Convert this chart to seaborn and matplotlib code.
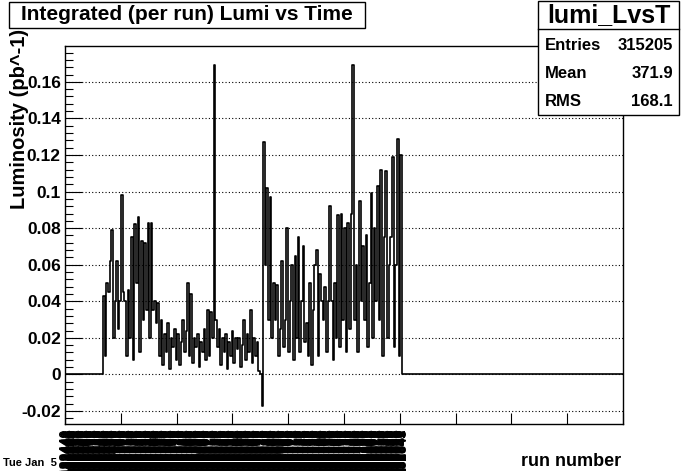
import numpy as np
import pandas as pd
import matplotlib
matplotlib.use("Agg")
import matplotlib.pyplot as plt
import matplotlib.transforms as mtransforms
from matplotlib.patches import Rectangle
from matplotlib.ticker import MultipleLocator
import seaborn as sns

# ---------------- data ----------------
first_edge = 68.0          # left edge of first non-empty bin (axis units 0..1000)
bin_width = 2.96
lumi_values = [
    # first hump
    0.043, 0.010, 0.050, 0.045, 0.062, 0.079, 0.020, 0.040, 0.062, 0.025, 0.040,
    0.098, 0.045, 0.040, 0.010, 0.046, 0.020, 0.075, 0.008, 0.082, 0.050, 0.086,
    0.012, 0.073, 0.030, 0.072, 0.035, 0.083, 0.020, 0.083, 0.035, 0.040, 0.028,
    # low region
    0.039, 0.010, 0.030, 0.005, 0.022, 0.012, 0.028, 0.003, 0.020, 0.015, 0.025,
    0.008, 0.022, 0.005, 0.018, 0.030, 0.012, 0.024, 0.050, 0.010, 0.044, 0.006,
    0.020, 0.015, 0.022, 0.004, 0.018, 0.012, 0.025, 0.008, 0.035, 0.010, 0.034,
    # spike
    0.020, 0.169, 0.030,
    # low region
    0.015, 0.025, 0.005, 0.020, 0.012, 0.022, 0.003, 0.018, 0.010, 0.024, 0.006,
    0.020, 0.014, 0.020, 0.004, 0.016, 0.030, 0.008, 0.022, 0.012, 0.035, 0.006,
    0.020, 0.010, 0.018, 0.002,
    # dip and spike
    0.000, -0.017, 0.127,
    # medium region
    0.060, 0.102, 0.030, 0.097, 0.020, 0.050, 0.030, 0.049, 0.010, 0.025, 0.062,
    0.015, 0.030, 0.080, 0.012, 0.040, 0.060, 0.008, 0.065, 0.020, 0.075, 0.012,
    0.040, 0.070, 0.018, 0.028, 0.010, 0.050, 0.005, 0.035, 0.060, 0.068, 0.010,
    0.055, 0.040, 0.030, 0.048, 0.012, 0.040, 0.092,
    # high region
    0.040, 0.008, 0.050, 0.020, 0.087, 0.015, 0.088, 0.030, 0.080, 0.012, 0.083,
    0.025, 0.088, 0.169, 0.030, 0.060, 0.012, 0.095, 0.040, 0.070, 0.030, 0.076,
    0.015, 0.050, 0.099, 0.020, 0.080, 0.040, 0.103, 0.030, 0.112, 0.010, 0.075,
    0.111, 0.020, 0.060, 0.075, 0.119, 0.015, 0.060, 0.129, 0.010, 0.120,
]
x_min, x_max = 0.0, 1000.0
y_min, y_max = -0.0271, 0.1796

title_text = "Integrated (per run) Lumi vs Time"
y_title = "Luminosity (pb^-1)"
x_title = "run number"
date_label = "Tue Jan  5"
stats_name = "lumi_LvsT"
stats_keys = ["Entries", "Mean", "RMS"]
stats_vals = ["315205", "371.9", "168.1"]
y_ticks = [-0.02, 0, 0.02, 0.04, 0.06, 0.08, 0.1, 0.12, 0.14, 0.16]
y_tick_labels = ["-0.02", "0", "0.02", "0.04", "0.06", "0.08", "0.1", "0.12", "0.14", "0.16"]
run_label_start = 132440
label_x_positions = np.arange(0, 606, 1.5)
run_labels = [str(run_label_start + i) for i in range(len(label_x_positions))]

# ---------------- figure ----------------
W, H = 681, 471
fig = plt.figure(figsize=(W / 100, H / 100), dpi=100)
fig.patch.set_facecolor("white")
L, R, T, B = 65, 623, 46, 424
ax = fig.add_axes([L / W, 1 - B / H, (R - L) / W, (B - T) / H])
ax.set_facecolor("white")

FAM = ["Liberation Sans", "DejaVu Sans"]

n = len(lumi_values)
inner_edges = [first_edge + i * bin_width for i in range(n + 1)]
edges = [x_min] + inner_edges + [x_max]
weights = [0.0] + list(lumi_values) + [0.0]
centers = [(edges[i] + edges[i + 1]) / 2 for i in range(len(edges) - 1)]
df = pd.DataFrame({"x": centers, "w": weights})

sns.histplot(data=df, x="x", weights="w", bins=edges, element="step",
             fill=False, color="black", linewidth=1.2, ax=ax)

ax.set_xlim(x_min, x_max)
ax.set_ylim(y_min, y_max)
ax.set_xlabel("")
ax.set_ylabel("")

# grid
for yv in y_ticks:
    ax.axhline(yv, color="black", lw=0.8, ls=(0, (1, 2)), zorder=0)

# ticks
ax.set_yticks(y_ticks)
ax.set_yticklabels(y_tick_labels, fontfamily=FAM, fontweight="bold", fontsize=12.5)
ax.yaxis.set_minor_locator(MultipleLocator(0.004))
ax.set_xticks(np.arange(0, 1001, 100))
ax.set_xticklabels([])
ax.tick_params(axis="y", which="major", direction="in", length=12, width=0.8,
               pad=3, left=True, right=False)
ax.tick_params(axis="y", which="minor", direction="in", length=6, width=0.8,
               left=True, right=False)
ax.tick_params(axis="x", which="major", direction="in", length=8, width=0.8,
               bottom=True, top=False)
for s in ax.spines.values():
    s.set_color("black")
    s.set_linewidth(1.0)

# overlapping run-number labels (appear as a black band, as in the reference)
trans = mtransforms.blended_transform_factory(ax.transData, fig.transFigure)
for xp, lab in zip(label_x_positions, run_labels):
    ax.text(xp, 1 - 429 / H, lab, rotation=90, ha="center", va="top",
            fontsize=10, fontweight="bold", family=FAM, transform=trans,
            clip_on=False, color="black")

# y title
fig.text(20 / W, 1 - 29 / H, y_title, rotation=90, ha="center", va="top",
         fontsize=14.5, fontweight="bold", family=FAM)
# x title
fig.text(621 / W, 1 - 461 / H, x_title, ha="right", va="center",
         fontsize=13, fontweight="bold", family=FAM)
# date
fig.text(3 / W, 1 - 463 / H, date_label, ha="left", va="center",
         fontsize=8, fontweight="bold", family=FAM)

# title box
fig.add_artist(Rectangle((9 / W, 1 - 28 / H), (365 - 9) / W, 26 / H,
                         transform=fig.transFigure, facecolor="white",
                         edgecolor="black", lw=1.0))
fig.text(187 / W, 1 - 15 / H, title_text, ha="center", va="center",
         fontsize=15, fontweight="bold", family=FAM)

# stats box
sx0, sx1, sy0, sy1 = 538, 679, 1, 115
fig.add_artist(Rectangle((sx0 / W, 1 - sy1 / H), (sx1 - sx0) / W, (sy1 - sy0) / H,
                         transform=fig.transFigure, facecolor="white",
                         edgecolor="black", lw=1.0, zorder=5))
fig.add_artist(plt.Line2D([sx0 / W, sx1 / W], [1 - 29 / H, 1 - 29 / H],
                          transform=fig.transFigure, color="black", lw=1.0, zorder=6))
fig.text((sx0 + sx1) / 2 / W, 1 - 15 / H, stats_name, ha="center", va="center",
         fontsize=18, fontweight="bold", family=FAM, zorder=7)
row_y = [45, 74, 102]
for k, v, yy in zip(stats_keys, stats_vals, row_y):
    fig.text(545 / W, 1 - yy / H, k, ha="left", va="center", fontsize=12,
             fontweight="bold", family=FAM, zorder=7)
    fig.text(673 / W, 1 - yy / H, v, ha="right", va="center", fontsize=12,
             fontweight="bold", family=FAM, zorder=7)

fig.savefig("out.png", dpi=100)
